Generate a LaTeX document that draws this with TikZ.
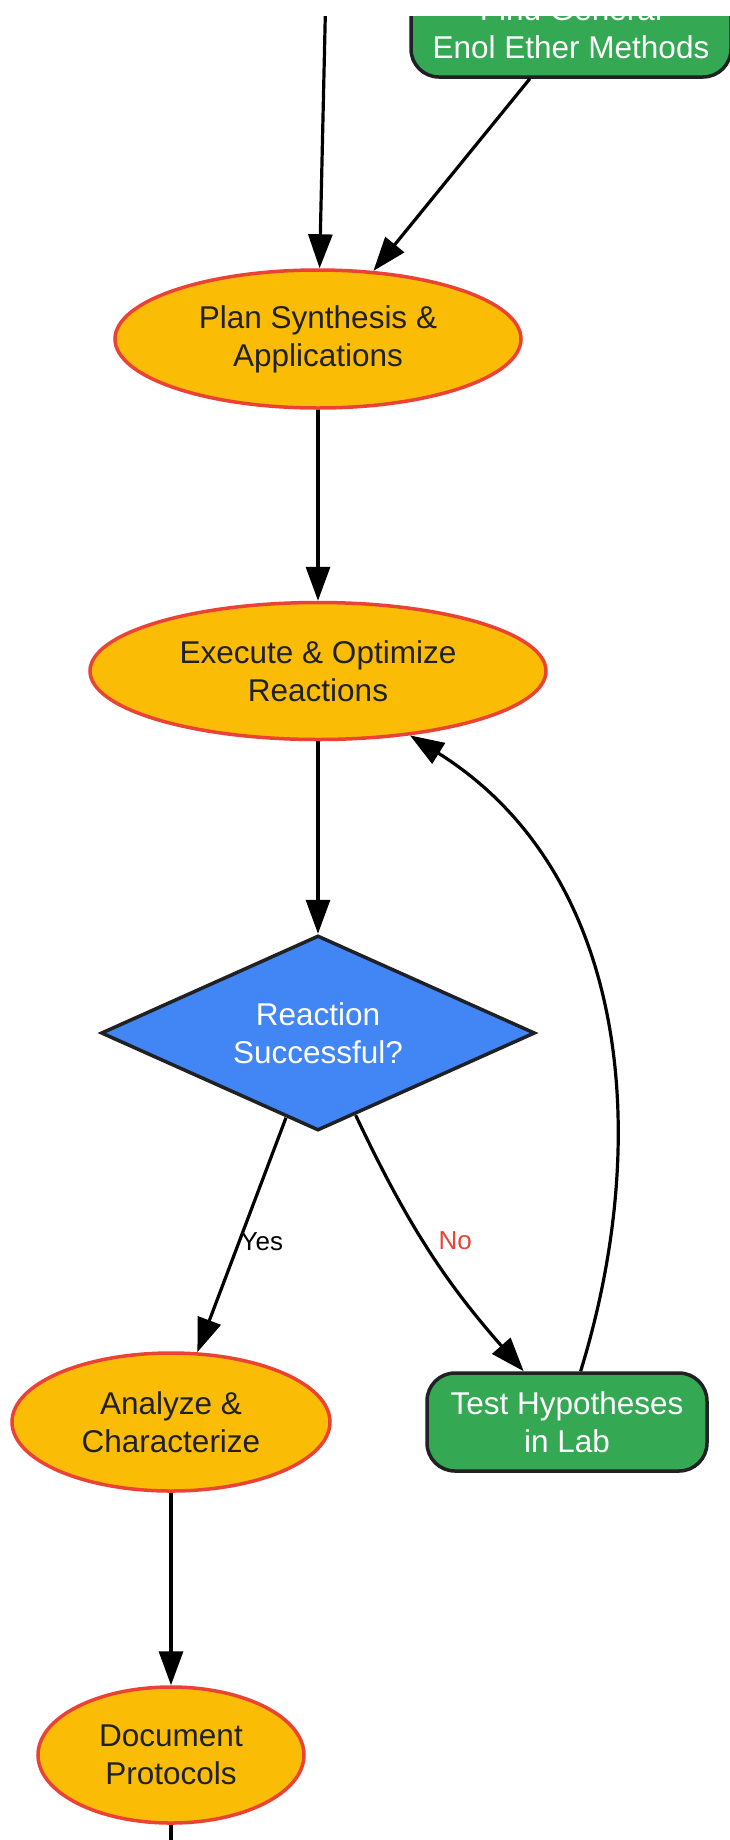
\documentclass[tikz,border=0pt]{standalone}
\usepackage{fontspec}
\setmainfont{Liberation Sans}
\usetikzlibrary{shapes.geometric,arrows.meta}
\definecolor{fillyellow}{HTML}{FBBC05}
\definecolor{edgered}{HTML}{EA4335}
\definecolor{fillgreen}{HTML}{34A853}
\definecolor{fillblue}{HTML}{4285F4}
\definecolor{darkline}{HTML}{202124}

\begin{document}
\begin{tikzpicture}[x=1pt,y=-1pt,
    every node/.style={align=center,inner sep=0pt,font=\fontsize{31.5}{38}\selectfont},
    stage/.style={ellipse,draw=edgered,line width=3.5pt,fill=fillyellow,text=darkline},
    labtask/.style={rectangle,rounded corners=28pt,draw=darkline,line width=3.5pt,fill=fillgreen,text=white,minimum width=280pt,minimum height=98pt},
    check/.style={diamond,aspect=2.2,draw=darkline,line width=3.5pt,fill=fillblue,text=white,minimum width=434pt,minimum height=195pt},
    flow/.style={line width=3.2pt,-{Triangle[length=34pt,width=24pt]}},
    edgelabel/.style={font=\fontsize{26}{30}\selectfont}]
    \useasboundingbox (0,0) rectangle (730,1840);
    \clip (0,16) rectangle (730,1840);

    % nodes
    \coordinate (above) at (327,-60);
    \node[labtask,minimum width=320pt] at (571,28) (general) {Find General\\Enol Ether Methods};
    \node[stage,minimum width=406pt,minimum height=138pt] at (318,339) (plan) {Plan Synthesis \&\\Applications};
    \node[stage,minimum width=456pt,minimum height=137pt] at (318,671) (execute) {Execute \& Optimize\\Reactions};
    \node[check] at (318,1033) (success) {Reaction\\Successful?};
    \node[stage,minimum width=318pt,minimum height=138pt] at (171,1422) (analyze) {Analyze \&\\Characterize};
    \node[labtask] at (567,1422) (test) {Test Hypotheses\\in Lab};
    \node[stage,minimum width=266pt,minimum height=136pt] at (171,1755) (document) {Document\\Protocols};
    \coordinate (below) at (171,1900);

    % connections
    \draw[flow] (above) -- (plan);
    \draw[flow] (general) -- (plan);
    \draw[flow] (plan) -- (execute);
    \draw[flow] (execute) -- (success);
    \draw[flow] (success) -- node[pos=0.53,anchor=west,xshift=0pt,edgelabel] {Yes} (analyze);
    \draw[flow] (success) to[bend right=8] node[pos=0.46,anchor=west,xshift=14pt,edgelabel,text=edgered] {No} (test);
    \draw[flow] (test.75) .. controls (655,1130) and (625,870) .. (execute.-35);
    \draw[flow] (analyze) -- (document);
    \draw[line width=3.2pt] (document) -- (below);
\end{tikzpicture}
\end{document}
